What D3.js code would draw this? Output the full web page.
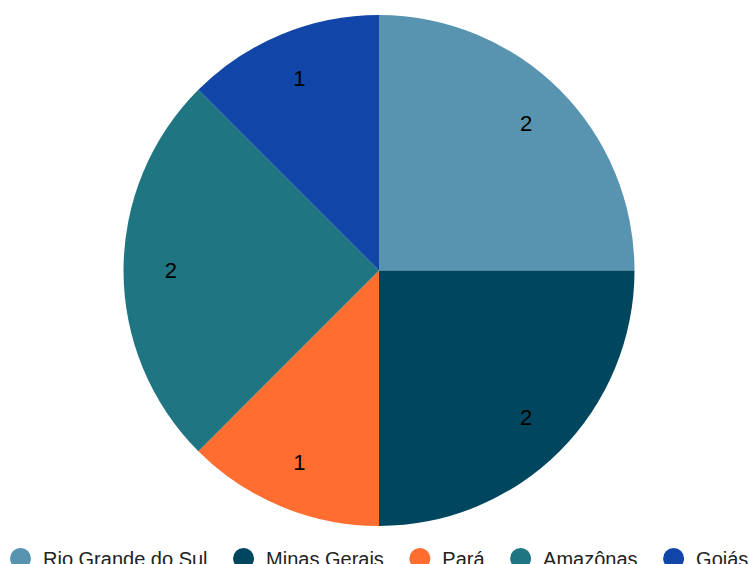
<!DOCTYPE html>
<html>
<head>
<meta charset="utf-8">
<script src="https://cdn.jsdelivr.net/npm/d3@7"></script>
<style>
  html, body { margin: 0; padding: 0; background: #ffffff; }
  svg { display: block; font-family: "Liberation Sans", Arial, sans-serif; }
</style>
</head>
<body>
<svg id="chart" width="749" height="564"></svg>
<script>
// Number of entries per state
const states = ["Rio Grande do Sul", "Minas Gerais", "Pará", "Amazônas", "Goiás"];
const counts = [2, 2, 1, 2, 1];
const palette = ["#5893b0", "#01465f", "#ff6d31", "#1f7581", "#1145a8"];

const width = 749, height = 564;
const cx = 379, cy = 270.5, radius = 255.5;

const svg = d3.select("#chart");

const color = d3.scaleOrdinal().domain(states).range(palette);

const pie = d3.pie().sort(null).value(d => d.value);
const data = states.map((s, i) => ({ name: s, value: counts[i] }));
const arcs = pie(data);

const arc = d3.arc().innerRadius(0).outerRadius(radius);
const labelArc = d3.arc().innerRadius(radius * 0.815).outerRadius(radius * 0.815);

const g = svg.append("g").attr("transform", `translate(${cx},${cy})`);

g.selectAll("path.slice")
  .data(arcs)
  .join("path")
  .attr("class", "slice")
  .attr("d", arc)
  .attr("fill", d => color(d.data.name));

g.selectAll("text.value")
  .data(arcs)
  .join("text")
  .attr("class", "value")
  .attr("transform", d => `translate(${labelArc.centroid(d)})`)
  .attr("text-anchor", "middle")
  .attr("dominant-baseline", "central")
  .attr("font-size", 22)
  .attr("fill", "#000")
  .text(d => d.data.value);

// Legend along the bottom edge
const legend = svg.append("g").attr("class", "legend");
const legendY = 558.5;
let x = 20.5;
states.forEach(s => {
  legend.append("circle")
    .attr("cx", x).attr("cy", legendY).attr("r", 10.5)
    .attr("fill", color(s));
  const t = legend.append("text")
    .attr("x", x + 22.5).attr("y", legendY)
    .attr("dominant-baseline", "central")
    .attr("font-size", 20)
    .attr("fill", "#222")
    .text(s);
  x += 22.5 + t.node().getComputedTextLength() + 36;
});
</script>
</body>
</html>
